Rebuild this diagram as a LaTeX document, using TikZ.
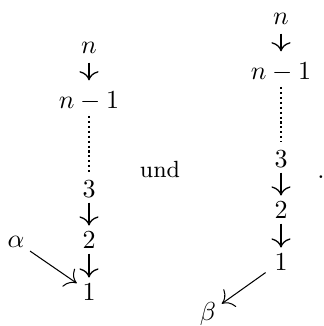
\documentclass[tikz,border=0pt]{standalone}
\usepackage{tikz}
\usetikzlibrary{arrows.meta}

\begin{document}
\begin{tikzpicture}[
    x=0.3846pt, y=-0.3846pt,
    >={To[scale=1.3]},
    lbl/.style={inner sep=2pt, anchor=base},
    down/.style={->, line width=0.5pt},
    gap/.style={line width=0.8pt, dash pattern=on 0.8pt off 1.1pt},
    side/.style={-{To[scale=1.6]}, line width=0.4pt}
  ]
  \useasboundingbox (0,0) rectangle (324,326);
  % left chain
  \node[lbl] (ln)  at (89,53)  {$n$};
  \node[lbl] (lnm) at (89,108) {$n-1$};
  \node[lbl] (l3)  at (89,197) {$3$};
  \node[lbl] (l2)  at (89,248) {$2$};
  \node[lbl] (l1)  at (89,300) {$1$};
  \node[lbl] (alpha) at (16,247) {$\alpha$};
  % right chain
  \node[lbl] (rn)  at (281,24)  {$n$};
  \node[lbl] (rnm) at (281,79)  {$n-1$};
  \node[lbl] (r3)  at (281,167) {$3$};
  \node[lbl] (r2)  at (281,218) {$2$};
  \node[lbl] (r1)  at (281,270) {$1$};
  \node[lbl] (beta) at (208,320) {$\beta$};
  \node[lbl, font=\small] (und) at (160,177) {und};
  \node[lbl] (stop) at (321,178) {.};

  \draw[down, shorten <=1.5pt, shorten >=2pt] (ln) -- (lnm);
  \draw[gap, shorten >=1pt] (lnm) -- (l3);
  \draw[down] (l3) -- (l2);
  \draw[down] (l2) -- (l1);
  \draw[side] (alpha) -- (l1);

  \draw[down, shorten <=1.5pt, shorten >=2pt] (rn) -- (rnm);
  \draw[gap, shorten >=1pt] (rnm) -- (r3);
  \draw[down] (r3) -- (r2);
  \draw[down] (r2) -- (r1);
  \draw[side, shorten <=1.5pt] (r1) -- (beta);
\end{tikzpicture}
\end{document}
